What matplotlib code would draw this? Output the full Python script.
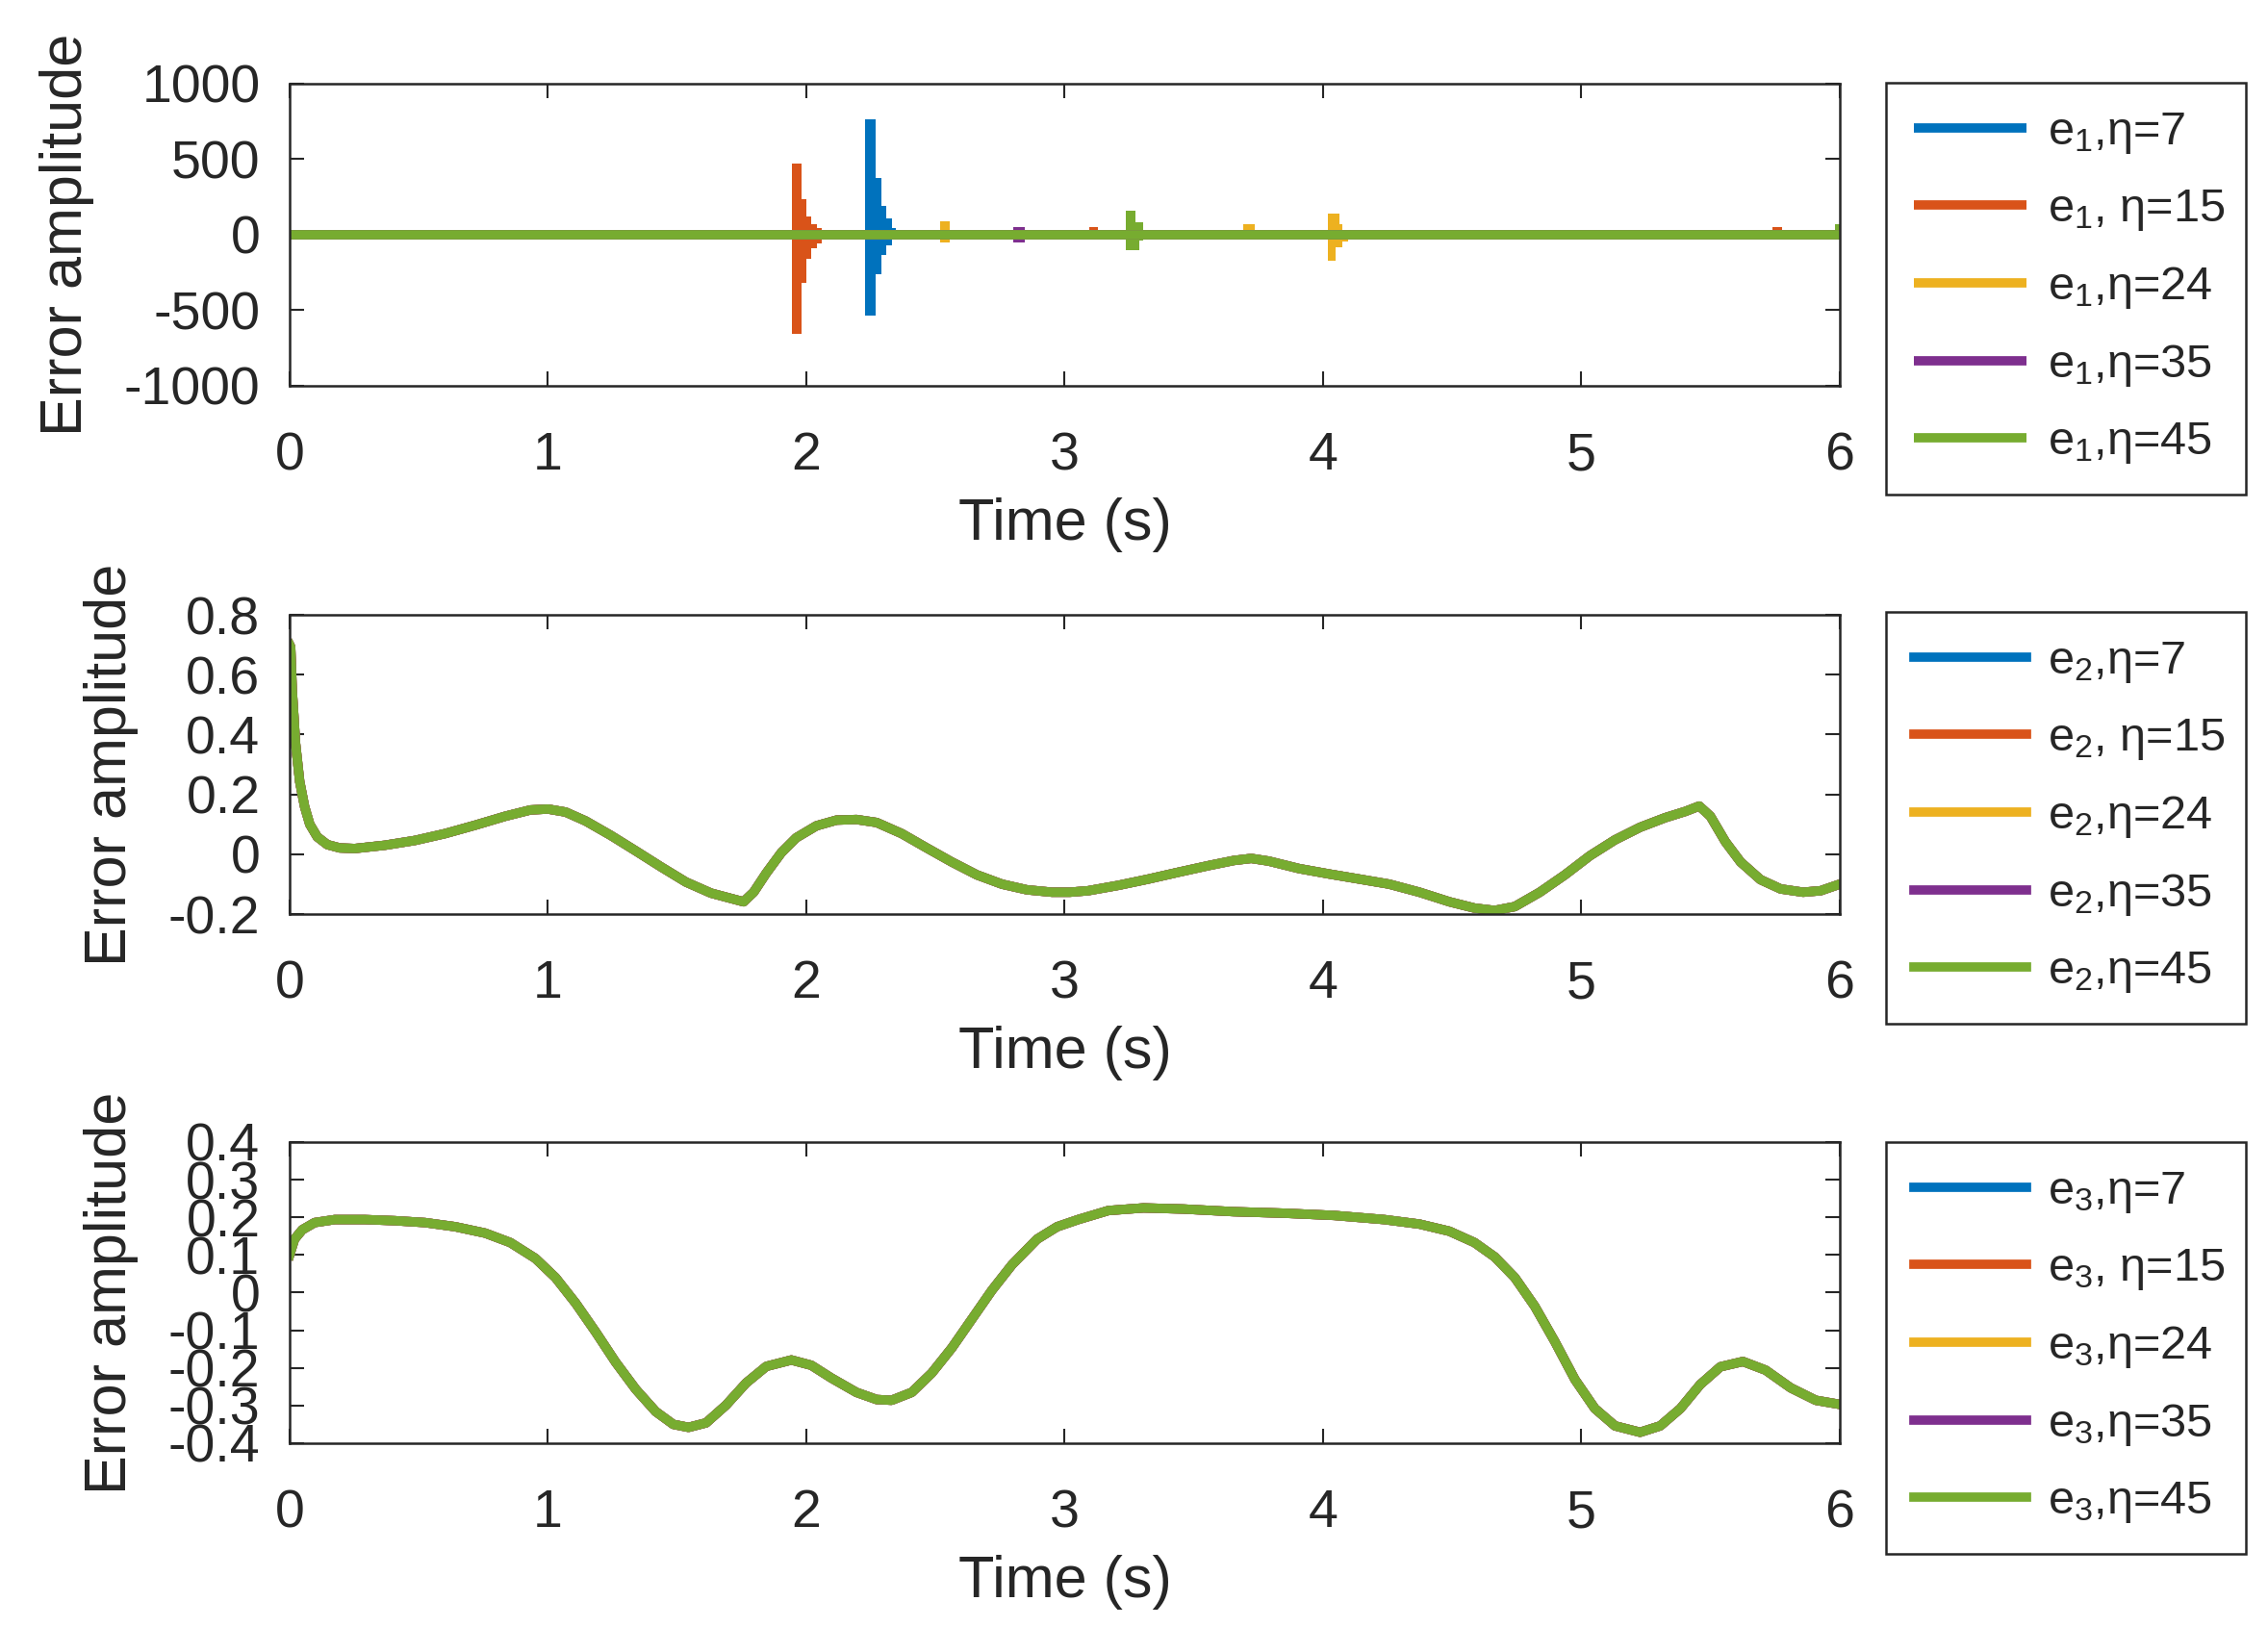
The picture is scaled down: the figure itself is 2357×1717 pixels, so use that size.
import matplotlib
matplotlib.use("Agg")
import matplotlib.pyplot as plt
from matplotlib.ticker import FuncFormatter

plt.rcParams['font.family'] = ['Liberation Sans', 'DejaVu Sans']
plt.rcParams['mathtext.default'] = 'regular'
plt.rcParams['axes.unicode_minus'] = False

INK = "#262626"
COLORS = ["#0072BD", "#D95319", "#EDB120", "#7E2F8E", "#77AC30"]
ETAS = [7, 15, 24, 35, 45]

# e1: flat at zero, with short oscillation bursts (step edges, upper, lower)
e1_base_t = [0, 6]
e1_base = [0, 0]
E1_BURSTS = {
    7: [([2.226, 2.27, 2.29, 2.31, 2.33, 2.348], [764, 378, 190, 105, 46], [-538, -259, -133, -70, -35])],
    15: [([1.945, 1.983, 2.0, 2.02, 2.04, 2.06, 2.075], [470, 234, 120, 70, 46, 20], [-658, -322, -158, -89, -55, -20]),
         ([3.095, 3.13], [51], [0]),
         ([5.74, 5.776], [51], [0])],
    24: [([2.518, 2.555], [89], [-53]),
         ([3.69, 3.735], [67], [0]),
         ([4.017, 4.047, 4.062, 4.076, 4.097], [137, 137, 67, 30], [-175, -84, -84, -48])],
    35: [([2.80, 2.845], [51], [-53])],
    45: [([3.237, 3.274, 3.288, 3.303], [156, 84, 84], [-105, -105, -38]),
         ([5.98, 6.0], [67], [-17])],
}

# e2 (same for every eta)
t2 = [0, 0.004, 0.01, 0.023, 0.039, 0.058, 0.078, 0.107, 0.146, 0.194, 0.252, 0.369, 0.485,
      0.602, 0.718, 0.835, 0.932, 1.0, 1.068, 1.146, 1.243, 1.34, 1.437, 1.534, 1.631, 1.709,
      1.757, 1.796, 1.845, 1.903, 1.961, 2.039, 2.117, 2.194, 2.272, 2.369, 2.466, 2.563, 2.66,
      2.757, 2.854, 2.951, 3.02, 3.091, 3.208, 3.324, 3.441, 3.557, 3.654, 3.722, 3.79, 3.907,
      4.023, 4.14, 4.256, 4.373, 4.489, 4.586, 4.664, 4.742, 4.839, 4.936, 5.033, 5.13, 5.227,
      5.324, 5.402, 5.456, 5.499, 5.557, 5.616, 5.693, 5.771, 5.858, 5.926, 6.0]
e2 = [0.70, 0.693, 0.55, 0.37, 0.243, 0.159, 0.10, 0.058, 0.032, 0.021, 0.019, 0.030, 0.046,
      0.069, 0.097, 0.127, 0.148, 0.151, 0.141, 0.111, 0.063, 0.011, -0.042, -0.093, -0.130, -0.148,
      -0.159, -0.127, -0.063, 0.005, 0.055, 0.095, 0.114, 0.116, 0.106, 0.069, 0.021, -0.026, -0.069,
      -0.10, -0.119, -0.127, -0.127, -0.122, -0.104, -0.083, -0.060, -0.038, -0.021, -0.014, -0.023, -0.048,
      -0.066, -0.083, -0.10, -0.127, -0.159, -0.18, -0.188, -0.175, -0.127, -0.069, -0.005, 0.048, 0.09,
      0.122, 0.143, 0.161, 0.127, 0.042, -0.026, -0.085, -0.116, -0.127, -0.122, -0.10]

# e3 (same for every eta)
t3 = [0, 0.019, 0.049, 0.097, 0.175, 0.291, 0.408, 0.524, 0.641, 0.757, 0.854, 0.951, 1.029,
      1.107, 1.184, 1.262, 1.34, 1.417, 1.485, 1.544, 1.612, 1.689, 1.767, 1.845, 1.942, 2.019,
      2.097, 2.194, 2.272, 2.33, 2.408, 2.485, 2.563, 2.641, 2.718, 2.796, 2.893, 2.971, 3.052,
      3.169, 3.305, 3.46, 3.654, 3.849, 4.043, 4.237, 4.373, 4.489, 4.586, 4.664, 4.742, 4.819,
      4.897, 4.975, 5.052, 5.13, 5.227, 5.305, 5.383, 5.46, 5.538, 5.625, 5.713, 5.81, 5.907, 6.0]
e3 = [0.10, 0.142, 0.167, 0.186, 0.194, 0.194, 0.191, 0.186, 0.175, 0.158, 0.133, 0.091, 0.040,
      -0.028, -0.104, -0.185, -0.257, -0.316, -0.35, -0.358, -0.346, -0.299, -0.240, -0.196, -0.179, -0.193,
      -0.227, -0.265, -0.284, -0.286, -0.265, -0.214, -0.147, -0.070, 0.006, 0.074, 0.142, 0.175, 0.194,
      0.218, 0.225, 0.222, 0.215, 0.211, 0.205, 0.194, 0.182, 0.163, 0.133, 0.095, 0.040, -0.036,
      -0.130, -0.231, -0.308, -0.354, -0.371, -0.354, -0.308, -0.244, -0.197, -0.183, -0.206, -0.253, -0.286, -0.297]

Y_TICKS = [[-1000, -500, 0, 500, 1000],
           [-0.2, 0, 0.2, 0.4, 0.6, 0.8],
           [-0.4, -0.3, -0.2, -0.1, 0, 0.1, 0.2, 0.3, 0.4]]
X_TICKS = [0, 1, 2, 3, 4, 5, 6]


def labels_for(k):
    return ["e$_{%d}$,η=7" % k, "e$_{%d}$, η=15" % k, "e$_{%d}$,η=24" % k,
            "e$_{%d}$,η=35" % k, "e$_{%d}$,η=45" % k]


def style_axes(ax, yticks):
    ax.set_xlim(0, 6)
    ax.set_ylim(yticks[0], yticks[-1])
    ax.set_xticks(X_TICKS)
    ax.set_yticks(yticks)
    ax.yaxis.set_major_formatter(FuncFormatter(lambda v, p: "%g" % v))
    ax.tick_params(direction="in", length=11, width=1.5, top=True, right=True,
                   labelsize=40, colors=INK)
    ax.tick_params(axis="x", pad=34)
    ax.tick_params(axis="y", pad=22)
    for s in ax.spines.values():
        s.set_linewidth(1.8)
        s.set_color(INK)
    ax.set_xlabel("Time (s)", fontsize=44, color=INK, labelpad=12)
    ax.set_ylabel("Error amplitude", fontsize=44, color=INK, labelpad=22)


def add_legend(ax, fig, top):
    leg = ax.legend(loc="upper left", bbox_to_anchor=(0.8316, top, 0.1587, 0),
                    bbox_transform=fig.transFigure, mode="expand", borderaxespad=0,
                    fontsize=35, handlelength=2.4, handletextpad=0.45, borderpad=0.6,
                    labelspacing=0.68, fancybox=False, framealpha=1)
    leg.get_frame().set_edgecolor(INK)
    leg.get_frame().set_linewidth(1.8)
    for txt in leg.get_texts():
        txt.set_color(INK)


fig = plt.figure(figsize=(23.57, 17.17), dpi=100)
lw = 7

ax1 = fig.add_axes([0.1277, 0.7665, 0.6835, 0.1829])
for eta, c, lab in zip(ETAS, COLORS, labels_for(1)):
    for edges, hi, lo in E1_BURSTS[eta]:
        ax1.fill_between(edges, lo + [lo[-1]], hi + [hi[-1]], step="post", color=c, lw=0)
    ax1.plot(e1_base_t, e1_base, color=c, lw=lw, label=lab, solid_capstyle="butt")
style_axes(ax1, Y_TICKS[0])
add_legend(ax1, fig, 0.9499)

ax2 = fig.add_axes([0.1277, 0.4467, 0.6835, 0.1811])
for c, lab in zip(COLORS, labels_for(2)):
    ax2.plot(t2, e2, color=c, lw=lw, label=lab)
style_axes(ax2, Y_TICKS[1])
add_legend(ax2, fig, 0.6296)

ax3 = fig.add_axes([0.1277, 0.1264, 0.6835, 0.1823])
for c, lab in zip(COLORS, labels_for(3)):
    ax3.plot(t3, e3, color=c, lw=lw, label=lab)
style_axes(ax3, Y_TICKS[2])
add_legend(ax3, fig, 0.3087)

fig.savefig("out.png", dpi=100, facecolor="white")
